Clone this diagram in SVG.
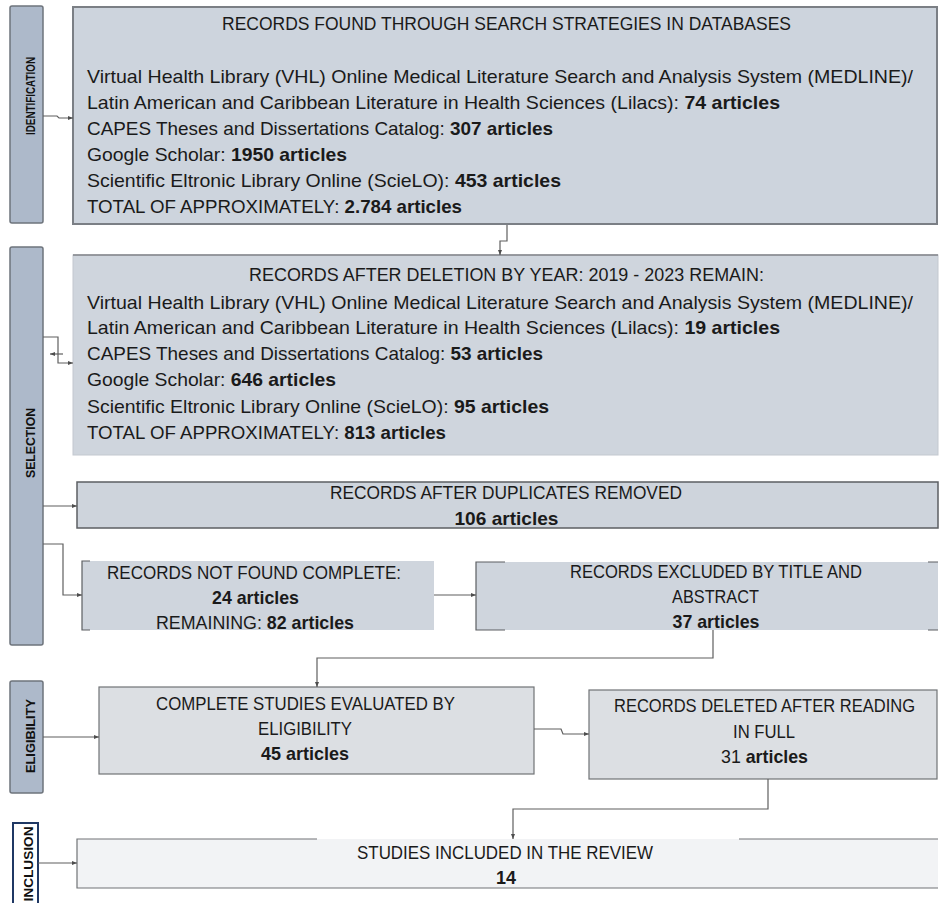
<svg xmlns="http://www.w3.org/2000/svg" width="939" height="903" viewBox="0 0 939 903">
<defs>
<marker id="ah" viewBox="0 0 10 10" refX="10" refY="5" markerWidth="5" markerHeight="5" orient="auto" markerUnits="userSpaceOnUse">
<path d="M0,1 L10,5 L0,9 z" fill="#4d4d4d"/>
</marker>
<style>
text{font-family:"Liberation Sans",Arial,sans-serif;fill:#1a1a1a;}
.t{font-size:18.5px;}
.c{text-anchor:middle;}
.b{font-weight:bold;}
.lab{font-size:12.5px;font-weight:bold;text-anchor:middle;fill:#111;}
.side{fill:#adb9ca;stroke:#6e747c;stroke-width:1.5;}
.conn{fill:none;stroke:#5f5f5f;stroke-width:1.2;marker-end:url(#ah);}
</style>
</defs>
<rect width="939" height="903" fill="#ffffff"/>

<g id="side-identification">
<rect class="side" x="10" y="6" width="33" height="217" rx="2"/>
<text class="lab" transform="translate(35,96) rotate(-90)" textLength="78" lengthAdjust="spacingAndGlyphs">IDENTIFICATION</text>
</g>
<g id="side-selection">
<rect class="side" x="10" y="247" width="33" height="398" rx="2"/>
<text class="lab" transform="translate(35,443) rotate(-90)" textLength="70" lengthAdjust="spacingAndGlyphs">SELECTION</text>
</g>
<g id="side-eligibility">
<rect class="side" x="10" y="681" width="33" height="112" rx="2"/>
<text class="lab" transform="translate(35,736) rotate(-90)" textLength="74" lengthAdjust="spacingAndGlyphs">ELIGIBILITY</text>
</g>
<g id="side-inclusion">
<rect x="13" y="823" width="25" height="90" fill="#ffffff" stroke="#1f3864" stroke-width="2"/>
<text class="lab" transform="translate(33,864) rotate(-90)" textLength="75" lengthAdjust="spacingAndGlyphs">INCLUSION</text>
</g>

<g id="box-identification">
<rect x="73" y="7" width="864" height="217" fill="#cdd4dd" stroke="#7b7f85" stroke-width="2"/>
<text class="t c" x="506.5" y="29.5" textLength="569" lengthAdjust="spacingAndGlyphs">RECORDS FOUND THROUGH SEARCH STRATEGIES IN DATABASES</text>
<text class="t" x="87" y="82.5" textLength="826" lengthAdjust="spacingAndGlyphs">Virtual Health Library (VHL) Online Medical Literature Search and Analysis System (MEDLINE)/</text>
<text class="t" x="87" y="108.5" textLength="693" lengthAdjust="spacingAndGlyphs">Latin American and Caribbean Literature in Health Sciences (Lilacs): <tspan class="b">74 articles</tspan></text>
<text class="t" x="87" y="134.5" textLength="466" lengthAdjust="spacingAndGlyphs">CAPES Theses and Dissertations Catalog: <tspan class="b">307 articles</tspan></text>
<text class="t" x="87" y="160.5" textLength="260" lengthAdjust="spacingAndGlyphs">Google Scholar: <tspan class="b">1950 articles</tspan></text>
<text class="t" x="87" y="186.5" textLength="474" lengthAdjust="spacingAndGlyphs">Scientific Eltronic Library Online (ScieLO): <tspan class="b">453 articles</tspan></text>
<text class="t" x="87" y="212.5" textLength="375" lengthAdjust="spacingAndGlyphs">TOTAL OF APPROXIMATELY: <tspan class="b">2.784 articles</tspan></text>
</g>

<g id="box-year">
<rect x="73" y="255" width="865" height="200" fill="#cfd5dd" stroke="#c3c8cf" stroke-width="1"/>
<line x1="73" y1="255" x2="938" y2="255" stroke="#808388" stroke-width="1.5"/>
<text class="t c" x="506.5" y="280.5" textLength="515" lengthAdjust="spacingAndGlyphs">RECORDS AFTER DELETION BY YEAR: 2019 - 2023 REMAIN:</text>
<text class="t" x="87" y="308.5" textLength="826" lengthAdjust="spacingAndGlyphs">Virtual Health Library (VHL) Online Medical Literature Search and Analysis System (MEDLINE)/</text>
<text class="t" x="87" y="333.5" textLength="693" lengthAdjust="spacingAndGlyphs">Latin American and Caribbean Literature in Health Sciences (Lilacs): <tspan class="b">19 articles</tspan></text>
<text class="t" x="87" y="359.5" textLength="456" lengthAdjust="spacingAndGlyphs">CAPES Theses and Dissertations Catalog: <tspan class="b">53 articles</tspan></text>
<text class="t" x="87" y="385.5" textLength="249" lengthAdjust="spacingAndGlyphs">Google Scholar: <tspan class="b">646 articles</tspan></text>
<text class="t" x="87" y="412.5" textLength="462" lengthAdjust="spacingAndGlyphs">Scientific Eltronic Library Online (ScieLO): <tspan class="b">95 articles</tspan></text>
<text class="t" x="87" y="438.5" textLength="359" lengthAdjust="spacingAndGlyphs">TOTAL OF APPROXIMATELY: <tspan class="b">813 articles</tspan></text>
</g>

<g id="box-duplicates">
<rect x="77" y="482" width="861" height="46" fill="#ced4dc" stroke="#5c5f63" stroke-width="1.5"/>
<text class="t c" x="506" y="498.5" textLength="352" lengthAdjust="spacingAndGlyphs">RECORDS AFTER DUPLICATES REMOVED</text>
<text class="t c b" x="506.5" y="525" textLength="104" lengthAdjust="spacingAndGlyphs">106 articles</text>
</g>

<g id="box-notfound">
<rect x="82" y="561" width="352" height="69" fill="#cfd5dd"/>
<path d="M90,561 H82 V630 H90" fill="none" stroke="#5c5f63" stroke-width="1.2"/>
<text class="t c" x="254" y="578.5" textLength="294" lengthAdjust="spacingAndGlyphs">RECORDS NOT FOUND COMPLETE:</text>
<text class="t c b" x="255.5" y="603.5" textLength="87" lengthAdjust="spacingAndGlyphs">24 articles</text>
<text class="t c" x="255" y="628.5" textLength="198" lengthAdjust="spacingAndGlyphs">REMAINING: <tspan class="b">82 articles</tspan></text>
</g>

<g id="box-title-abstract">
<rect x="476" y="562" width="462" height="68" fill="#cfd5dd"/>
<path d="M505,562 H476 V630 H505 M928,562 H938 M928,630 H938" fill="none" stroke="#5c5f63" stroke-width="1.2"/>
<text class="t c" x="716" y="577.5" textLength="292" lengthAdjust="spacingAndGlyphs">RECORDS EXCLUDED BY TITLE AND</text>
<text class="t c" x="715.5" y="602.5" textLength="87" lengthAdjust="spacingAndGlyphs">ABSTRACT</text>
<text class="t c b" x="716" y="627.5" textLength="87" lengthAdjust="spacingAndGlyphs">37 articles</text>
</g>

<g id="box-eligibility">
<rect x="99" y="687" width="435" height="87" fill="#dcdfe3" stroke="#707376" stroke-width="1.2"/>
<text class="t c" x="305.5" y="709.5" textLength="299" lengthAdjust="spacingAndGlyphs">COMPLETE STUDIES EVALUATED BY</text>
<text class="t c" x="305" y="734.5" textLength="94" lengthAdjust="spacingAndGlyphs">ELIGIBILITY</text>
<text class="t c b" x="305" y="759.5" textLength="88" lengthAdjust="spacingAndGlyphs">45 articles</text>
</g>

<g id="box-deleted">
<rect x="589" y="690" width="348" height="89" fill="#dcdfe3" stroke="#707376" stroke-width="1.2"/>
<text class="c" x="764.5" y="711.5" font-size="17.5" textLength="301" lengthAdjust="spacingAndGlyphs">RECORDS DELETED AFTER READING</text>
<text class="t c" x="764" y="737.5" textLength="62" lengthAdjust="spacingAndGlyphs">IN FULL</text>
<text class="t c" x="764.5" y="762.5" textLength="87" lengthAdjust="spacingAndGlyphs">31 <tspan class="b">articles</tspan></text>
</g>

<g id="box-included">
<rect x="77" y="839" width="861" height="49" fill="#f2f3f5"/>
<path d="M317,839 H77 V888 H938 M739,839 H938" fill="none" stroke="#707376" stroke-width="1.2"/>
<text class="t c" x="505" y="858.5" textLength="296" lengthAdjust="spacingAndGlyphs">STUDIES INCLUDED IN THE REVIEW</text>
<text class="t c b" x="506" y="883.5" textLength="20" lengthAdjust="spacingAndGlyphs">14</text>
</g>

<g id="connectors">
<path class="conn" d="M43,116 H57 L59,118 H73"/>
<path class="conn" d="M507,225 V241 H500 V255"/>
<path class="conn" d="M43,337 H58 V363 H73"/>
<path class="conn" d="M63,354 H50"/>
<path class="conn" d="M43,506 H77"/>
<path class="conn" d="M43,544 H63 V595 H82"/>
<path class="conn" d="M434,595 H476"/>
<path class="conn" d="M713,630 V658 H317 V687"/>
<path class="conn" d="M43,737 H99"/>
<path class="conn" d="M534,729 H561 L563,734 H589"/>
<path class="conn" d="M768,779 V809 H513 V839"/>
<path class="conn" d="M38,863 H77"/>
</g>
</svg>
